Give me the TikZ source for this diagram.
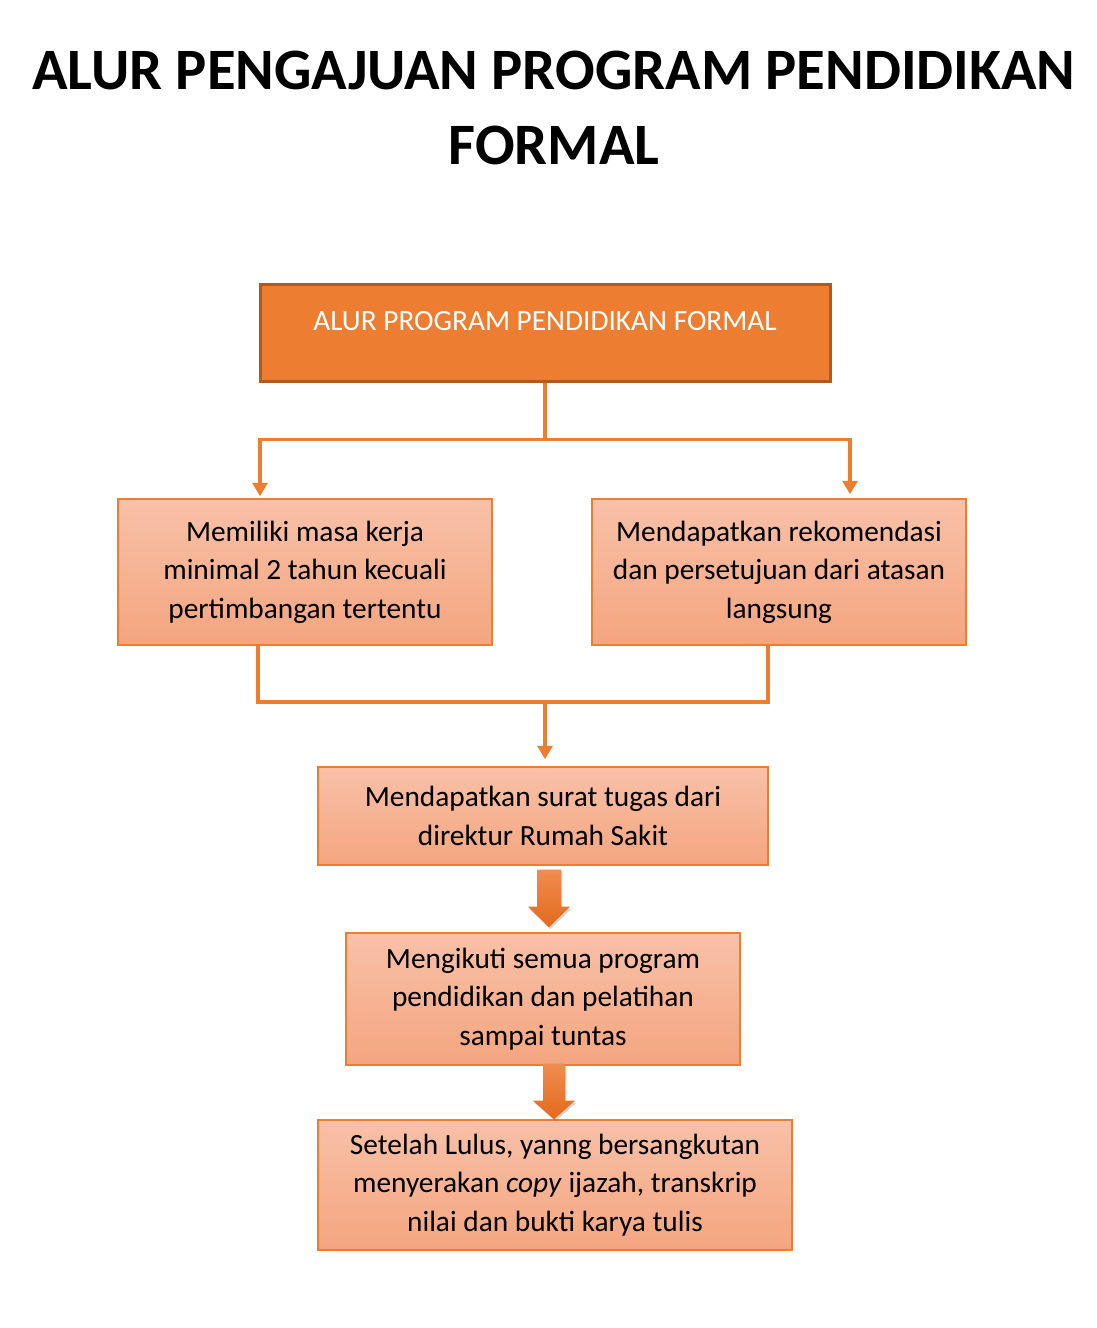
\documentclass[tikz,border=0pt]{standalone}
\usepackage{fontspec}
\setmainfont{Carlito}
\usetikzlibrary{arrows.meta,positioning,calc,shadows}
\definecolor{flowor}{RGB}{237,125,49}
\definecolor{flowdark}{RGB}{174,90,33}
\definecolor{boxtop}{RGB}{248,193,168}
\definecolor{boxbot}{RGB}{244,165,127}
\definecolor{arrtop}{RGB}{240,140,80}
\definecolor{arrbot}{RGB}{226,106,28}

\tikzset{
  stepbox/.style={draw=flowor, line width=1.1pt, top color=boxtop, bottom color=boxbot,
    align=center, inner sep=0pt, font=\fontsize{22}{29}\selectfont},
  conn/.style={draw=flowor, line width=2.8pt},
  tip/.style={-{Triangle[width=11pt,length=10pt]}},
  blockarr/.style={top color=arrtop, bottom color=arrbot,
    drop shadow={shadow xshift=1pt, shadow yshift=-1.5pt, opacity=0.35}}
}

\begin{document}
\begin{tikzpicture}[x=0.75pt, y=-0.75pt]
\useasboundingbox (0,0) rectangle (1096,1328);

% title
\node[font=\fontsize{44}{56}\selectfont\bfseries, align=center] (title) at (554,108)
  {ALUR PENGAJUAN PROGRAM PENDIDIKAN\\FORMAL};

% boxes
\node[draw=flowdark, fill=flowor, line width=2.25pt, text=white, inner xsep=0pt, inner ysep=0pt,
  minimum width=427.5pt, text height=34.5pt, text depth=38.25pt,
  font=\fontsize{22}{27}\selectfont] (top) at (545,332.5) {ALUR PROGRAM PENDIDIKAN FORMAL};

\node[stepbox, minimum width=280.5pt, minimum height=109.5pt] (masa) at (305,572)
  {Memiliki masa kerja\\minimal 2 tahun kecuali\\pertimbangan tertentu};
\node[stepbox, minimum width=280.5pt, minimum height=109.5pt] (rekom) at (779,572)
  {Mendapatkan rekomendasi\\dan persetujuan dari atasan\\langsung};
\node[stepbox, minimum width=337.5pt, minimum height=73.5pt] (surat) at (543,816)
  {Mendapatkan surat tugas dari\\direktur Rumah Sakit};
\node[stepbox, minimum width=295.5pt, minimum height=99pt] (ikut) at (543,999)
  {Mengikuti semua program\\pendidikan dan pelatihan\\sampai tuntas};
\node[stepbox, minimum width=355.5pt, minimum height=97.5pt] (lulus) at (555,1185)
  {Setelah Lulus, yanng bersangkutan\\menyerakan \textit{copy} ijazah, transkrip\\nilai dan bukti karya tulis};

% connectors
\coordinate (bus1) at ($(top.south)+(0,57)$);
\draw[conn] (top.south) -- (bus1);
\draw[conn, tip] (bus1) -| ($(masa.north)+(-45,-2)$);
\draw[conn, tip] (bus1) -| ($(rekom.north)+(71,-4)$);

\coordinate (bus2) at ($(surat.north)+(2,-64)$);
\draw[conn] ($(masa.south)+(-47,0)$) |- (bus2);
\draw[conn] ($(rekom.south)+(-11,0)$) |- (bus2);
\draw[conn, tip] (bus2) -- ($(surat.north)+(2,-7)$);

% block arrows
\coordinate (a1) at ($(surat.south)+(6,4)$);
\coordinate (b1) at ($(ikut.north)+(6,-5)$);
\path[blockarr] ($(a1)+(-12,0)$) -- ($(a1)+(12,0)$) -- ($(a1)+(12,37)$) -- ($(a1)+(21,37)$)
  -- (b1) -- ($(a1)+(-21,37)$) -- ($(a1)+(-12,37)$) -- cycle;

\coordinate (a2) at ($(ikut.south)+(11,-2)$);
\coordinate (b2) at ($(lulus.north)+(-1,0)$);
\path[blockarr] ($(a2)+(-11,0)$) -- ($(a2)+(11,0)$) -- ($(a2)+(11,37)$) -- ($(a2)+(21,37)$)
  -- (b2) -- ($(a2)+(-21,37)$) -- ($(a2)+(-11,37)$) -- cycle;
\end{tikzpicture}
\end{document}
